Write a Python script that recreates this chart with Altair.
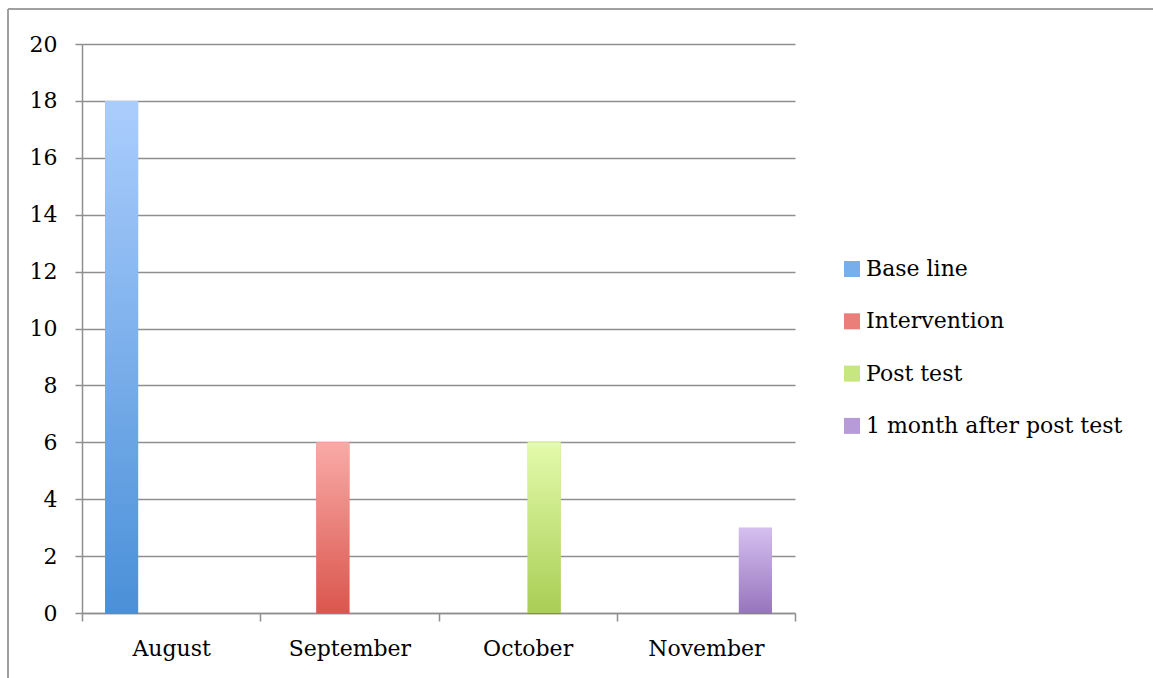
import altair as alt
import pandas as pd

# Monthly counts for each phase of the study
months = ["August", "September", "October", "November"]
phases = ["Base line", "Intervention", "Post test", "1 month after post test"]
base_line = [18, 0, 0, 0]
intervention = [0, 6, 0, 0]
post_test = [0, 0, 6, 0]
one_month_after = [0, 0, 0, 3]

# Vertical gradient for each phase (top colour, bottom colour)
gradient_tops = ["#abcdfd", "#f9aaa7", "#e3fbab", "#d5bff0"]
gradient_bottoms = ["#4a90d8", "#da564d", "#a9cd55", "#9775bd"]
legend_colours = ["#78aeeb", "#ec7e79", "#c6e67f", "#b79bd8"]

rows = []
for phase, values in zip(phases, [base_line, intervention, post_test, one_month_after]):
    for month, v in zip(months, values):
        rows.append({"month": month, "phase": phase, "value": v})
df = pd.DataFrame(rows)

FONT = "DejaVu Serif"
GRID = "#8f8f8f"


def gradient(top, bottom):
    return {
        "gradient": "linear",
        "x1": 0, "x2": 0, "y1": 0, "y2": 1,
        "stops": [{"offset": 0, "color": top}, {"offset": 1, "color": bottom}],
    }


x_enc = alt.X(
    "month:N",
    sort=months,
    scale=alt.Scale(paddingInner=0, paddingOuter=0),
    axis=alt.Axis(
        title=None, labelAngle=0, tickBand="extent", tickSize=8,
        tickColor=GRID, domainColor=GRID, tickWidth=1.5, domainWidth=1.5,
        labelFont=FONT, labelFontSize=22, labelColor="black", labelPadding=17,
        grid=False,
    ),
)
xoff_enc = alt.XOffset(
    "phase:N", sort=phases,
    scale=alt.Scale(domain=phases, paddingInner=0, paddingOuter=0.70),
)
y_enc = alt.Y(
    "value:Q",
    scale=alt.Scale(domain=[0, 20], nice=False),
    axis=alt.Axis(
        title=None, values=list(range(0, 21, 2)), tickSize=7,
        tickColor=GRID, domainColor=GRID, tickWidth=1.5, domainWidth=1.5,
        gridColor=GRID, gridWidth=1.5, gridOpacity=1,
        labelFont=FONT, labelFontSize=22, labelColor="black", labelPadding=18,
    ),
)

# Solid bars carry the colour legend
legend_bars = alt.Chart(df).mark_bar().encode(
    x=x_enc,
    xOffset=xoff_enc,
    y=y_enc,
    color=alt.Color(
        "phase:N",
        sort=phases,
        scale=alt.Scale(domain=phases, range=legend_colours),
        legend=alt.Legend(
            title=None, orient="none", legendX=759, legendY=214,
            symbolType="square", symbolSize=256, symbolStrokeWidth=0,
            labelFont=FONT, labelFontSize=22, labelColor="black",
            labelOffset=3, rowPadding=30.3, labelLimit=400,
        ),
    ),
)

# Soft shadow to the right of each bar
shadow_bars = alt.Chart(df).mark_bar(
    fill="#000000", opacity=0.07, xOffset=2, yOffset=1
).encode(
    x=alt.X("month:N", sort=months),
    xOffset=alt.XOffset("phase:N", sort=phases),
    y=alt.Y("value:Q"),
)

# Gradient-filled bars drawn on top
conditions = [
    {"test": f"datum.phase === '{p}'", "value": gradient(t, b)}
    for p, t, b in zip(phases[:-1], gradient_tops[:-1], gradient_bottoms[:-1])
]
gradient_bars = alt.Chart(df).mark_bar().encode(
    x=alt.X("month:N", sort=months),
    xOffset=alt.XOffset("phase:N", sort=phases),
    y=alt.Y("value:Q"),
    fill=alt.FillValue(gradient(gradient_tops[-1], gradient_bottoms[-1]), condition=conditions),
)

# Frame lines along the top and left of the figure
frame_top = alt.Chart(df).mark_rule(color="#a0a0a0", strokeWidth=1.5).encode(
    x=alt.value(-74), x2=alt.value(1080), y=alt.value(-35)
)
frame_left = alt.Chart(df).mark_rule(color="#a0a0a0", strokeWidth=1.5).encode(
    x=alt.value(-74), y=alt.value(-35), y2=alt.value(640)
)

chart = (
    alt.layer(legend_bars, shadow_bars, gradient_bars, frame_top, frame_left)
    .properties(
        width=713,
        height=569,
        autosize=alt.AutoSizeParams(type="none"),
        padding={"left": 82, "top": 44, "right": 358, "bottom": 65},
        background="white",
    )
    .configure_view(stroke=None)
)

chart.save("out.html", embed_options={"renderer": "svg", "actions": False})
